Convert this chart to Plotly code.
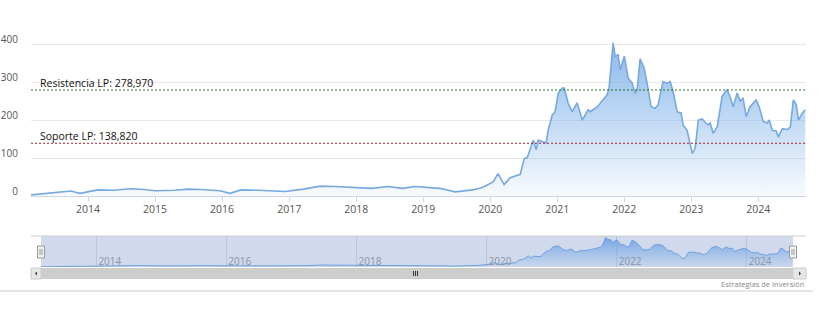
import plotly.graph_objects as go

W, H = 821, 321

dates = ["2013-02-24","2013-05-15","2013-07-20","2013-09-29","2013-11-17","2014-02-24","2014-05-20",
"2014-08-23","2014-11-01","2015-01-01","2015-04-19","2015-06-29","2015-09-08","2015-12-20","2016-02-13",
"2016-04-14","2016-07-15","2016-10-01","2016-12-08","2017-03-20","2017-06-18","2017-09-08","2017-12-26",
"2018-03-28","2018-06-23","2018-09-08","2018-11-17","2019-01-28","2019-04-03","2019-05-17","2019-06-24",
"2019-09-29","2019-11-23","2020-01-17","2020-02-13","2020-03-17","2020-04-19","2020-06-13","2020-07-04",
"2020-07-21","2020-08-23","2020-09-08","2020-09-19","2020-10-16","2020-11-01","2020-11-12","2020-12-04",
"2020-12-20","2021-01-06","2021-01-28","2021-02-08","2021-03-01","2021-03-23","2021-04-19","2021-05-17",
"2021-06-18","2021-06-29","2021-08-07","2021-09-08","2021-09-29","2021-10-10","2021-11-01","2021-11-12",
"2021-11-28","2021-12-09","2022-01-01","2022-01-22","2022-02-13","2022-03-01","2022-03-12","2022-03-28",
"2022-04-19","2022-05-05","2022-05-27","2022-06-18","2022-07-04","2022-07-31","2022-08-23","2022-09-08",
"2022-09-24","2022-10-16","2022-11-07","2022-11-17","2022-12-09","2023-01-06","2023-01-22","2023-02-08",
"2023-03-01","2023-03-17","2023-04-03","2023-04-14","2023-04-30","2023-05-22","2023-06-18","2023-07-15",
"2023-07-31","2023-08-17","2023-09-08","2023-09-24","2023-10-10","2023-10-27","2023-11-17","2023-12-20",
"2024-01-06","2024-01-28","2024-02-19","2024-03-01","2024-03-17","2024-04-08","2024-04-19","2024-05-11",
"2024-06-07","2024-06-24","2024-07-10","2024-07-26","2024-08-07","2024-08-28","2024-09-13"]

values = [3,6,10,13,7,16,15,
19,17,14,15,18,17,14,7,
16,15,14,12,18,26,25,23,
20,25,20,25,23,20,15,11,
16,23,37,59,30,48,57,98,
101,147,122,147,142,140,173,213,
222,271,284,284,244,222,245,200,
227,222,235,253,266,284,403,368,
372,332,368,310,297,270,280,361,
337,297,235,231,240,301,297,301,
275,222,218,187,173,112,125,200,
203,194,187,192,165,182,262,280,
262,235,271,249,258,209,235,253,
235,196,192,200,173,171,155,177,
175,182,253,240,200,218,227]

resistance = 278.970
support = 138.820
resistance_label = "Resistencia LP: 278,970"
support_label = "Soporte LP: 138,820"

y_ticks = [0, 100, 200, 300, 400, 500]
y_ticktext = ["0", "100", "200", "300", "400", ""]
x_ticks = ["%d-01-01" % y for y in range(2014, 2025)]
x_ticktext = [str(y) for y in range(2014, 2025)]
nav_ticks = ["%d-01-01" % y for y in range(2014, 2025, 2)]
nav_ticktext = [str(y) for y in range(2014, 2025, 2)]
x_range = ["2013-02-24", "2024-09-17"]
credit = "Estrategias de Inversión"

def px(x):
    return x / W

def py(y):
    return (H - y) / H

FONT = "Open Sans"
grad = dict(type="vertical", start=0, stop=410,
            colorscale=[[0, "rgba(124,176,232,0.06)"], [1, "rgba(124,176,232,0.9)"]])
nav_grad = dict(type="vertical", start=0, stop=410,
                colorscale=[[0, "rgba(124,176,232,0.1)"], [1, "rgba(110,160,226,0.95)"]])

fig = go.Figure()
fig.add_trace(go.Scatter(x=dates, y=values, mode="lines", fill="tozeroy",
                         line=dict(color="#76a9e0", width=1.6), fillgradient=grad,
                         xaxis="x", yaxis="y", hoverinfo="skip"))
fig.add_trace(go.Scatter(x=dates, y=values, mode="lines", fill="tozeroy",
                         line=dict(color="#6e9fdc", width=1), fillgradient=nav_grad,
                         xaxis="x2", yaxis="y2", hoverinfo="skip"))

fig.update_layout(
    width=W, height=H, margin=dict(l=0, r=0, t=0, b=0, autoexpand=False),
    paper_bgcolor="white", plot_bgcolor="rgba(0,0,0,0)", showlegend=False,
    font=dict(family=FONT, size=10, color="#666666"),
    xaxis=dict(domain=[px(31), px(806)], range=x_range, tickvals=x_ticks, ticktext=x_ticktext,
               showgrid=False, showline=True, linecolor="#ccd6eb", linewidth=1, automargin=False,
               ticks="outside", ticklen=5, tickcolor="#ccd6eb", zeroline=False, ticklabelstandoff=-2,
               tickfont=dict(size=10.5, color="#555555"), anchor="y"),
    yaxis=dict(domain=[py(196), py(6)], range=[0, 500], tickvals=y_ticks, ticktext=y_ticktext,
               showgrid=True, gridcolor="#e8e8e8", zeroline=False, showline=False, automargin=False,
               ticklabelstandoff=12, ticklabelshift=-5,
               tickfont=dict(size=10, color="#555555"), anchor="x"),
    xaxis2=dict(domain=[px(41), px(793)], range=x_range, tickvals=nav_ticks, ticktext=nav_ticktext,
                showgrid=True, gridcolor="#b9c6dc", gridwidth=1, showline=False, zeroline=False,
                ticks="", ticklabelposition="inside right", automargin=False,
                ticklabelstandoff=-6, ticklabelshift=2,
                tickfont=dict(size=10, color="#8a93a3"), anchor="y2"),
    yaxis2=dict(domain=[py(267), py(236)], range=[0, 420], showgrid=False, showticklabels=False,
                zeroline=False, showline=False, anchor="x2", automargin=False),
)

shapes = []
shapes.append(dict(type="rect", xref="paper", yref="paper", x0=px(41), x1=px(793), y0=py(267), y1=py(236),
                   fillcolor="#d1daed", line=dict(width=0), layer="below"))
shapes.append(dict(type="line", xref="paper", yref="paper", x0=px(31), x1=px(806), y0=py(236), y1=py(236),
                   line=dict(color="#cccccc", width=1)))
shapes.append(dict(type="rect", xref="paper", yref="paper", x0=px(31), x1=px(806), y0=py(279), y1=py(268),
                   fillcolor="#cdcdcd", line=dict(width=0)))
for a, b in [(31, 41), (793, 806)]:
    shapes.append(dict(type="rect", xref="paper", yref="paper", x0=px(a), x1=px(b), y0=py(279), y1=py(268),
                       fillcolor="#e6e6e6", line=dict(color="#cccccc", width=1)))
shapes.append(dict(type="path", xref="paper", yref="paper",
                   path="M %f %f L %f %f L %f %f Z" % (px(35), py(273.5), px(37), py(271.5), px(37), py(275.5)),
                   fillcolor="#333333", line=dict(width=0)))
shapes.append(dict(type="path", xref="paper", yref="paper",
                   path="M %f %f L %f %f L %f %f Z" % (px(801), py(273.5), px(799), py(271.5), px(799), py(275.5)),
                   fillcolor="#333333", line=dict(width=0)))
for gx in (413.5, 415.5, 417.5):
    shapes.append(dict(type="line", xref="paper", yref="paper", x0=px(gx), x1=px(gx), y0=py(271), y1=py(276),
                       line=dict(color="#333333", width=1)))
for hx in (41, 793):
    shapes.append(dict(type="rect", xref="paper", yref="paper", x0=px(hx - 3.5), x1=px(hx + 3.5),
                       y0=py(258), y1=py(246), fillcolor="#f2f2f2", line=dict(color="#999999", width=1)))
    for d in (-1, 1):
        shapes.append(dict(type="line", xref="paper", yref="paper", x0=px(hx + d), x1=px(hx + d),
                           y0=py(255), y1=py(249), line=dict(color="#999999", width=1)))
shapes.append(dict(type="line", xref="paper", yref="paper", x0=0, x1=px(813), y0=py(291), y1=py(291),
                   line=dict(color="#cccccc", width=1)))
shapes.append(dict(type="line", xref="x domain", yref="y", x0=0, x1=1, y0=resistance, y1=resistance,
                   line=dict(color="#1f7a1f", width=1, dash="2px,2px")))
shapes.append(dict(type="line", xref="x domain", yref="y", x0=0, x1=1, y0=support, y1=support,
                   line=dict(color="#a3222a", width=1, dash="2px,2px")))
fig.update_layout(shapes=shapes)

fig.add_annotation(xref="x domain", yref="y", x=0, y=resistance, xshift=7, yshift=-2,
                   text=resistance_label, showarrow=False, xanchor="left", yanchor="bottom",
                   font=dict(family=FONT, size=10.5, color="#111111"))
fig.add_annotation(xref="x domain", yref="y", x=0, y=support, xshift=7, yshift=-2,
                   text=support_label, showarrow=False, xanchor="left", yanchor="bottom",
                   font=dict(family=FONT, size=10.5, color="#111111"))
fig.add_annotation(xref="paper", yref="paper", x=px(806), y=py(284), text=credit, showarrow=False,
                   xanchor="right", yanchor="middle", font=dict(family=FONT, size=7.5, color="#888888"))

fig.write_html("out.html")
